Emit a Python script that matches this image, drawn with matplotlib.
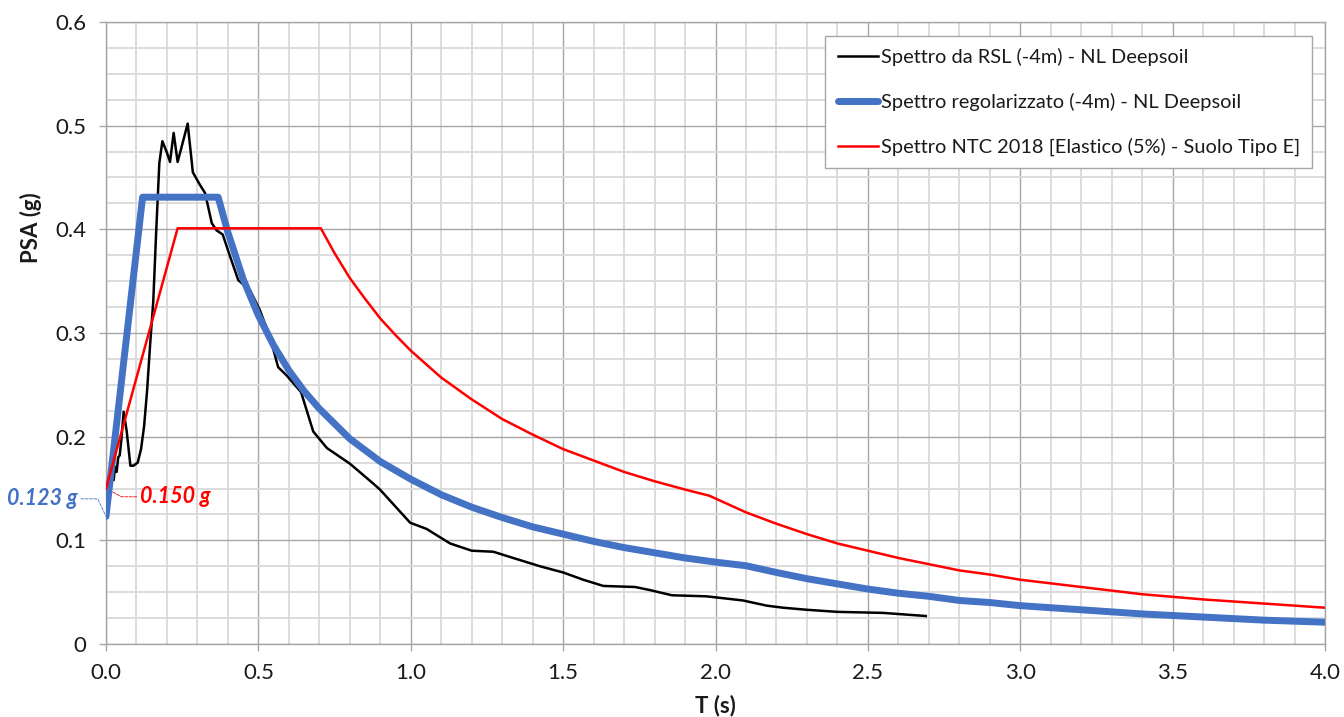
import numpy as np
import matplotlib
matplotlib.use('Agg')
import matplotlib.pyplot as plt
from matplotlib.ticker import MultipleLocator

plt.rcParams['font.family'] = ['Lato', 'DejaVu Sans']

# spettro da RSL (-4m) - NL Deepsoil
T_rsl = [0.0, 0.005, 0.015, 0.02, 0.025, 0.03, 0.035, 0.04, 0.045, 0.05, 0.058, 0.068,
         0.08, 0.09, 0.104, 0.115, 0.125, 0.135, 0.145, 0.155, 0.165, 0.175, 0.185, 0.20,
         0.21, 0.222, 0.235, 0.245, 0.268, 0.285, 0.308, 0.325, 0.335, 0.347, 0.363,
         0.383, 0.407, 0.434, 0.473, 0.505, 0.538, 0.565, 0.593, 0.640, 0.680, 0.725,
         0.80, 0.872, 0.899, 0.998, 1.052, 1.129, 1.200, 1.271, 1.336, 1.424, 1.500,
         1.566, 1.632, 1.736, 1.785, 1.857, 1.97, 2.09, 2.168, 2.222, 2.30, 2.40, 2.55, 2.69]
psa_rsl = [0.150, 0.151, 0.157, 0.164, 0.158, 0.171, 0.166, 0.180, 0.182, 0.196, 0.224, 0.205,
           0.172, 0.172, 0.175, 0.188, 0.210, 0.245, 0.290, 0.330, 0.400, 0.464, 0.485, 0.474,
           0.465, 0.493, 0.465, 0.476, 0.502, 0.455, 0.443, 0.435, 0.422, 0.406, 0.399,
           0.395, 0.374, 0.351, 0.341, 0.322, 0.296, 0.267, 0.259, 0.243, 0.205, 0.189,
           0.174, 0.156, 0.149, 0.117, 0.111, 0.097, 0.090, 0.089, 0.083, 0.075, 0.069,
           0.062, 0.056, 0.055, 0.052, 0.047, 0.046, 0.042, 0.037, 0.035, 0.033, 0.031, 0.030, 0.027]

# spettro regolarizzato (-4m) - NL Deepsoil
T_reg = [0.0, 0.12, 0.368, 0.40, 0.45, 0.50, 0.55, 0.60, 0.65, 0.70, 0.80, 0.90, 1.00,
         1.10, 1.20, 1.30, 1.40, 1.50, 1.60, 1.70, 1.80, 1.90, 2.00, 2.10, 2.20, 2.30,
         2.40, 2.50, 2.60, 2.70, 2.80, 2.90, 3.00, 3.20, 3.40, 3.60, 3.80, 4.00]
psa_reg = [0.123, 0.431, 0.431, 0.397, 0.352, 0.317, 0.288, 0.264, 0.244, 0.227, 0.198,
           0.176, 0.159, 0.144, 0.132, 0.122, 0.113, 0.106, 0.099, 0.093, 0.088, 0.083,
           0.079, 0.0755, 0.069, 0.063, 0.058, 0.053, 0.049, 0.046, 0.042, 0.040, 0.037,
           0.033, 0.029, 0.026, 0.023, 0.021]

# spettro NTC 2018 - elastico 5%, suolo tipo E
T_ntc = [0.0, 0.235, 0.705, 0.75, 0.80, 0.85, 0.90, 0.95, 1.00, 1.10, 1.20, 1.30, 1.40,
         1.50, 1.60, 1.70, 1.80, 1.90, 1.98, 2.10, 2.20, 2.30, 2.40, 2.50, 2.60, 2.70,
         2.80, 2.90, 3.00, 3.20, 3.40, 3.60, 3.80, 4.00]
psa_ntc = [0.150, 0.401, 0.401, 0.377, 0.353, 0.333, 0.314, 0.298, 0.283, 0.257, 0.236,
           0.217, 0.202, 0.188, 0.177, 0.166, 0.157, 0.149, 0.143, 0.127, 0.116, 0.106,
           0.097, 0.090, 0.083, 0.077, 0.071, 0.067, 0.062, 0.055, 0.048, 0.043, 0.039, 0.035]

labels = ['Spettro da RSL (-4m) - NL Deepsoil',
          'Spettro regolarizzato (-4m) - NL Deepsoil',
          'Spettro NTC 2018 [Elastico (5%) - Suolo Tipo E]']

x_ticks = [0.0, 0.5, 1.0, 1.5, 2.0, 2.5, 3.0, 3.5, 4.0]
x_ticklabels = ['0.0', '0.5', '1.0', '1.5', '2.0', '2.5', '3.0', '3.5', '4.0']
y_ticks = [0.0, 0.1, 0.2, 0.3, 0.4, 0.5, 0.6]
y_ticklabels = ['0', '0.1', '0.2', '0.3', '0.4', '0.5', '0.6']

blue = '#4472C4'
red = '#FF0000'

fig = plt.figure(figsize=(13.44, 7.17), dpi=100)
ax = fig.add_axes([106/1344, 1-644/717, 1219/1344, 622/717])

ax.plot(T_rsl, psa_rsl, color='black', lw=1.8, label=labels[0], zorder=3)
ax.plot(T_reg, psa_reg, color=blue, lw=5, label=labels[1], zorder=4, solid_capstyle='round')
ax.plot(T_ntc, psa_ntc, color=red, lw=1.8, label=labels[2], zorder=5)

ax.set_xlim(0, 4.0)
ax.set_ylim(0, 0.6)
ax.set_xticks(x_ticks)
ax.set_xticklabels(x_ticklabels)
ax.set_yticks(y_ticks)
ax.set_yticklabels(y_ticklabels)
ax.xaxis.set_minor_locator(MultipleLocator(0.1))
ax.yaxis.set_minor_locator(MultipleLocator(0.025))

ax.set_axisbelow(True)
ax.grid(which='major', color='#a6a6a6', lw=1.0)
ax.grid(which='minor', color='#d9d9d9', lw=1.3)
ax.tick_params(which='major', direction='out', length=5, width=1, color='#a6a6a6',
               labelsize=16, pad=9, labelcolor='#1a1a1a')
ax.tick_params(which='minor', length=0)
for s in ax.spines.values():
    s.set_color('#a6a6a6')
    s.set_linewidth(1.0)

ax.set_xlabel('T (s)', fontsize=16, fontweight='bold', color='#1a1a1a')
ax.set_ylabel('PSA (g)', fontsize=16, fontweight='bold', color='#1a1a1a')
ax.xaxis.set_label_coords(0.5, -0.082)
ax.yaxis.set_label_coords(-0.0525, 0.669)

leg = ax.legend(loc='upper left', bbox_to_anchor=(0.590, 0.9775), fontsize=14.4,
                frameon=True, fancybox=False, framealpha=1, edgecolor='#a6a6a6',
                handlelength=2.0, handletextpad=0.15, labelspacing=1.33,
                borderpad=0.62, borderaxespad=0)
leg.get_frame().set_linewidth(1.0)
for t in leg.get_texts():
    t.set_color('#1a1a1a')

# etichette dei valori a T = 0
ax.annotate('%.3f g' % psa_reg[0], xy=(T_reg[0], psa_reg[0]), xytext=(-0.092, 0.140),
            textcoords='data', ha='right', va='center', color=blue, fontsize=15.5,
            fontweight='bold', fontstyle='italic', annotation_clip=False,
            arrowprops=dict(arrowstyle='-', color=blue, lw=0.6, ls='--',
                            relpos=(1, 0.5), shrinkA=0, shrinkB=0,
                            connectionstyle='angle,angleA=0,angleB=115,rad=0'))
ax.annotate('%.3f g' % psa_ntc[0], xy=(T_ntc[0], psa_ntc[0]), xytext=(0.11, 0.142),
            textcoords='data', ha='left', va='center', color=red, fontsize=15.5,
            fontweight='bold', fontstyle='italic', annotation_clip=False,
            arrowprops=dict(arrowstyle='-', color=red, lw=0.6, ls='--',
                            relpos=(0, 0.5), shrinkA=0, shrinkB=0,
                            connectionstyle='angle,angleA=180,angleB=-28,rad=0'))

fig.savefig('out.png', dpi=100)
